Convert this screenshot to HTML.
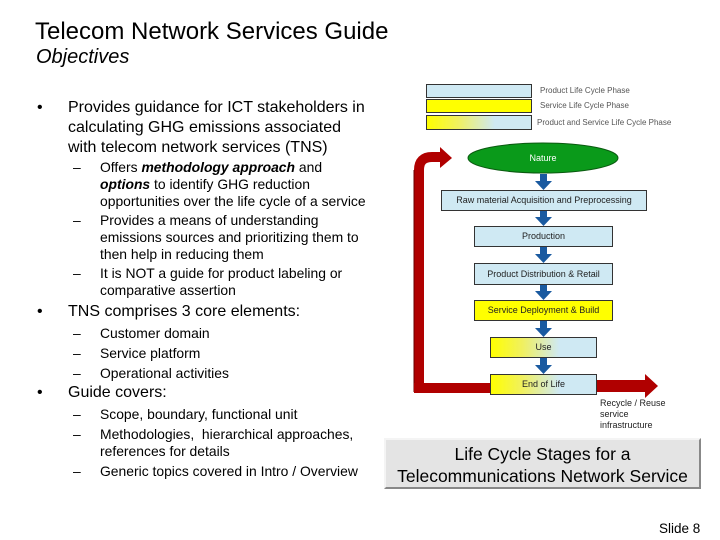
<!DOCTYPE html>
<html><head><meta charset="utf-8"><style>
body{margin:0;width:720px;height:540px;background:#fff;position:relative;overflow:hidden;font-family:"Liberation Sans",Arial,sans-serif;color:#000}
.t{position:absolute;white-space:nowrap}
.a{font-size:16px;line-height:18px}
.b{font-size:13.9px;line-height:16px}
.box{position:absolute;border:1px solid #333;box-sizing:border-box;font-size:9px;text-align:center;color:#222}
.lb{background:#cfe9f3}
.y{background:#ffff00}
.g{background:linear-gradient(90deg,#ffff00 0%,#f0f060 30%,#cfe9f3 65%,#cfe9f3 100%)}
</style></head><body>
<div class="t" style="left:35px;top:18px;font-size:24px;line-height:28px">Telecom Network Services Guide</div>
<div class="t" style="left:36px;top:46px;font-size:20px;line-height:23px;font-style:italic">Objectives</div>

<div class="t a" style="left:37px;top:99px">•</div>
<div class="t a" style="left:68px;top:99px">Provides guidance for ICT stakeholders in</div>
<div class="t a" style="left:68px;top:119px">calculating GHG emissions associated</div>
<div class="t a" style="left:68px;top:139px">with telecom network services (TNS)</div>
<div class="t b" style="left:73px;top:159px">–</div>
<div class="t b" style="left:100px;top:159px">Offers <b><i>methodology approach</i></b> and</div>
<div class="t b" style="left:100px;top:176px"><b><i>options</i></b> to identify GHG reduction</div>
<div class="t b" style="left:100px;top:193px">opportunities over the life cycle of a service</div>
<div class="t b" style="left:73px;top:212px">–</div>
<div class="t b" style="left:100px;top:212px">Provides a means of understanding</div>
<div class="t b" style="left:100px;top:229px">emissions sources and prioritizing them to</div>
<div class="t b" style="left:100px;top:246px">then help in reducing them</div>
<div class="t b" style="left:73px;top:265px">–</div>
<div class="t b" style="left:100px;top:265px">It is NOT a guide for product labeling or</div>
<div class="t b" style="left:100px;top:282px">comparative assertion</div>
<div class="t a" style="left:37px;top:303px">•</div>
<div class="t a" style="left:68px;top:303px">TNS comprises 3 core elements:</div>
<div class="t b" style="left:73px;top:325px">–</div><div class="t b" style="left:100px;top:325px">Customer domain</div>
<div class="t b" style="left:73px;top:345px">–</div><div class="t b" style="left:100px;top:345px">Service platform</div>
<div class="t b" style="left:73px;top:365px">–</div><div class="t b" style="left:100px;top:365px">Operational activities</div>
<div class="t a" style="left:37px;top:384px">•</div>
<div class="t a" style="left:68px;top:384px">Guide covers:</div>
<div class="t b" style="left:73px;top:406px">–</div><div class="t b" style="left:100px;top:406px">Scope, boundary, functional unit</div>
<div class="t b" style="left:73px;top:426px">–</div><div class="t b" style="left:100px;top:426px">Methodologies,&nbsp; hierarchical approaches,</div>
<div class="t b" style="left:100px;top:443px">references for details</div>
<div class="t b" style="left:73px;top:463px">–</div><div class="t b" style="left:100px;top:463px">Generic topics covered in Intro / Overview</div>

<!-- legend -->
<div class="box lb" style="left:426px;top:84px;width:106px;height:14px"></div>
<div class="box y" style="left:426px;top:99px;width:106px;height:14px"></div>
<div class="box g" style="left:426px;top:115px;width:106px;height:15px"></div>
<div class="t" style="left:540px;top:86px;font-size:8px;color:#555">Product Life Cycle Phase</div>
<div class="t" style="left:540px;top:101px;font-size:8px;color:#555">Service Life Cycle Phase</div>
<div class="t" style="left:537px;top:118px;font-size:8px;color:#555">Product and Service Life Cycle Phase</div>

<svg style="position:absolute;left:0;top:0" width="720" height="540">
<path d="M419 392 V170 Q419 157 432 157 H440" fill="none" stroke="#b00000" stroke-width="10"/>
<path d="M414 392 V170" stroke="#6a0000" stroke-width="1" fill="none"/>
<polygon points="440,147 452,158 440,168" fill="#b00000"/>
<rect x="414" y="383" width="78" height="10" fill="#b00000"/>
<rect x="596" y="380" width="50" height="12" fill="#b00000"/>
<polygon points="645,374 658,386 645,398" fill="#b00000"/>
<ellipse cx="543" cy="158" rx="75" ry="15" fill="#0a9a1a" stroke="#0a5a10"/>
<text x="543" y="161" font-size="9" fill="#fff" text-anchor="middle" font-family="Liberation Sans">Nature</text>
<g fill="#1a5aa0">
<rect x="540" y="174" width="7" height="8"/><polygon points="535,181 552,181 543.5,190"/>
<rect x="540" y="210" width="7" height="8"/><polygon points="535,217 552,217 543.5,226"/>
<rect x="540" y="247" width="7" height="8"/><polygon points="535,254 552,254 543.5,263"/>
<rect x="540" y="285" width="7" height="7"/><polygon points="535,291 552,291 543.5,300"/>
<rect x="540" y="321" width="7" height="8"/><polygon points="535,328 552,328 543.5,337"/>
<rect x="540" y="358" width="7" height="8"/><polygon points="535,365 552,365 543.5,374"/>
</g>
</svg>

<div class="box lb" style="left:441px;top:190px;width:206px;height:21px;line-height:19px">Raw material Acquisition and Preprocessing</div>
<div class="box lb" style="left:474px;top:226px;width:139px;height:21px;line-height:19px">Production</div>
<div class="box lb" style="left:474px;top:263px;width:139px;height:22px;line-height:20px">Product Distribution &amp; Retail</div>
<div class="box y" style="left:474px;top:300px;width:139px;height:21px;line-height:19px">Service Deployment &amp; Build</div>
<div class="box g" style="left:490px;top:337px;width:107px;height:21px;line-height:19px">Use</div>
<div class="box g" style="left:490px;top:374px;width:107px;height:21px;line-height:19px">End of Life</div>
<div class="t" style="left:600px;top:398px;font-size:9px;line-height:11px;color:#222">Recycle / Reuse<br>service<br>infrastructure</div>

<div style="position:absolute;left:384px;top:438px;width:317px;height:51px;box-sizing:border-box;background:#e4e4e4;border:2px solid;border-color:#f4f4f4 #888 #888 #f4f4f4;text-align:center;font-size:17.5px;line-height:22px;padding-top:3px;white-space:nowrap">Life Cycle Stages for a<br>Telecommunications Network Service</div>

<div class="t" style="left:659px;top:521px;font-size:13.5px">Slide 8</div>
</body></html>
